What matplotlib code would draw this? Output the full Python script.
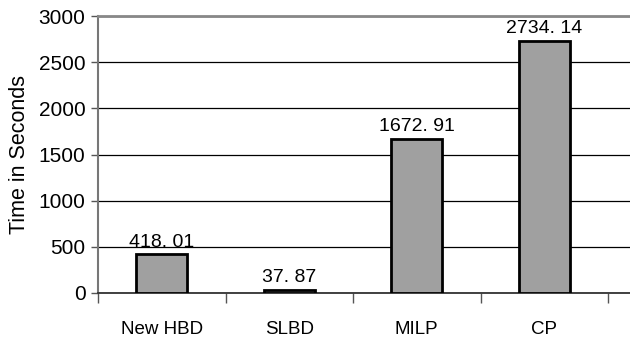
import numpy as np
import matplotlib.pyplot as plt
from matplotlib.ticker import FixedLocator, NullFormatter

# data
methods = ["New HBD", "SLBD", "MILP", "CP"]
times = [418.01, 37.87, 1672.91, 2734.14]
value_labels = ["418. 01", "37. 87", "1672. 91", "2734. 14"]

plt.rcParams['font.family'] = ['Liberation Sans', 'DejaVu Sans']

fig = plt.figure(figsize=(6.3, 3.4), dpi=100)
ax = fig.add_axes([98/630, 1 - 293/340, 1 - 98/630, (293 - 16)/340])

x = np.arange(len(methods))
ax.bar(x, times, width=0.4, color="#a0a0a0", edgecolor="black", linewidth=2, zorder=3)

for xi, t, lab in zip(x, times, value_labels):
    ax.text(xi, t + 35, lab, ha="center", va="bottom", fontsize=14, zorder=4)

ax.set_ylim(0, 3000)
ax.set_xlim(-0.5, 3.5 + 22/128)
ax.set_yticks(np.arange(0, 3001, 500))
ax.yaxis.grid(True, color="black", linewidth=0.9, zorder=0)
ax.tick_params(axis="y", labelsize=15, length=5, width=1, color="#555555", pad=4)

# category boundaries get the tick marks, centres get the labels
ax.xaxis.set_major_locator(FixedLocator(np.arange(-0.5, 3.6, 1)))
ax.xaxis.set_major_formatter(NullFormatter())
ax.xaxis.set_minor_locator(FixedLocator(x))
ax.set_xticklabels(methods, minor=True)
ax.tick_params(axis="x", which="major", direction="out", length=7, width=1, color="#555555")
ax.tick_params(axis="x", which="minor", length=0, labelsize=13.5, pad=20.5)

ax.spines["right"].set_visible(False)
ax.spines["top"].set_color("#888888")
ax.spines["top"].set_linewidth(2)
ax.spines["left"].set_color("#777777")
ax.spines["left"].set_linewidth(1.5)
ax.spines["bottom"].set_color("#333333")
ax.spines["bottom"].set_linewidth(1.3)

ax.set_ylabel("Time in Seconds", fontsize=15.5, labelpad=6)

fig.savefig("out.png", dpi=100)
